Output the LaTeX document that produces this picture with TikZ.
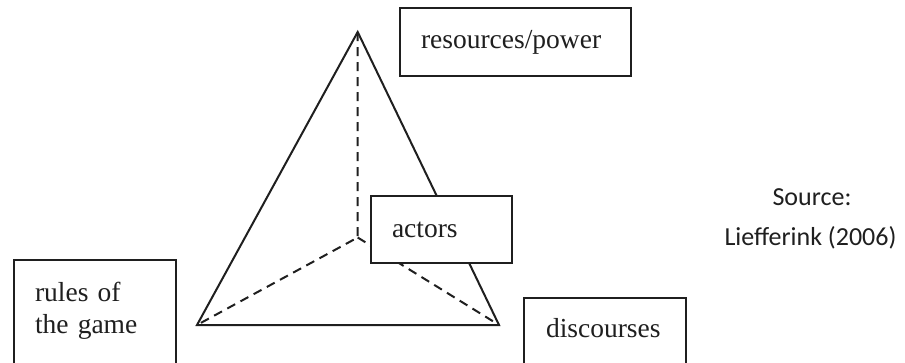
\documentclass[tikz,border=0pt]{standalone}
\usepackage{fontspec}
\setmainfont{Liberation Serif}
\newfontfamily\srcfont{Carlito}
\definecolor{ink}{gray}{0.12}
\begin{document}
\begin{tikzpicture}[x=1pt,y=-1pt,
  edge/.style={line width=2pt, draw=ink, line join=miter},
  hidden/.style={line width=2pt, draw=ink, dash pattern=on 9pt off 6pt},
  box/.style={draw=ink, line width=2.3pt, fill=white, rectangle, anchor=north west,
    outer sep=0pt, align=left, text=ink, inner xsep=21pt,
    font=\fontsize{27.5}{32}\selectfont},
  src/.style={font=\srcfont\fontsize{26}{30}\selectfont, text=ink,
    anchor=base, inner sep=0pt}]
\useasboundingbox (0,0) rectangle (905,362);

% pyramid: apex, base corners and the hidden centre point
\coordinate (apex) at (357.7,32);
\coordinate (bl) at (197,325);
\coordinate (br) at (499,325);
\coordinate (ctr) at (357.7,237.5);

\draw[edge] (apex) -- (bl) -- (br) -- cycle;
\draw[hidden] (apex) -- (ctr) -- (bl);
\draw[hidden] (ctr) -- (br);

% labels at the corners
\node[box, inner ysep=0pt, minimum height=68pt, text width=189pt] (res) at (400,8) {resources/power};
\node[box, inner ysep=0pt, minimum height=67pt, text width=99pt] (act) at (371,196) {actors};
\node[box, inner ysep=22pt, text width=120pt] (rules) at (14,260)
  {rules of\\the game\rule[-60pt]{0pt}{60pt}};
\node[box, inner ysep=20.5pt, inner xsep=22pt, text width=118pt] (disc) at (524,298)
  {discourses\rule[-60pt]{0pt}{60pt}};

% source note
\node[src] (src1) at (812,205) {Source:};
\node[src] (src2) at (810.5,245) {Liefferink (2006)};
\end{tikzpicture}
\end{document}
